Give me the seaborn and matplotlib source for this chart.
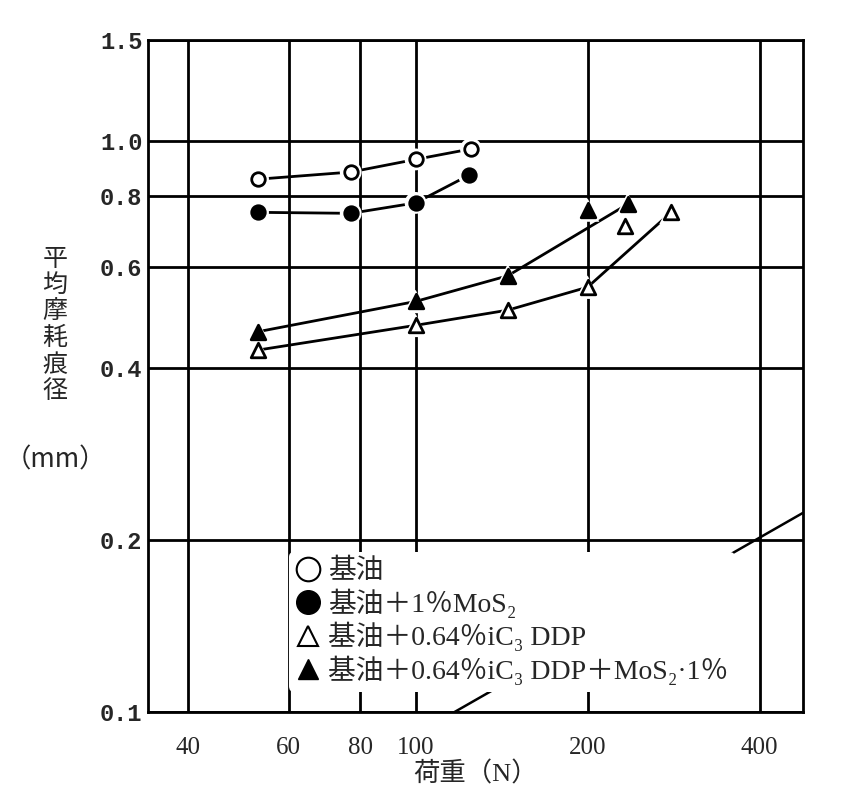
"""
荷重と平均摩耗痕径の関係 (両対数グラフ)
"""

import matplotlib
matplotlib.use("Agg")
import matplotlib.pyplot as plt
from matplotlib.lines import Line2D
from matplotlib.ticker import FixedLocator, NullFormatter, NullLocator
import seaborn as sns
import pandas as pd

# データ: 荷重 (N) / 平均摩耗痕径 (mm)
load_base = [53, 77, 100, 125]
wear_base = [0.856, 0.881, 0.927, 0.967]

load_mos2 = [53, 77, 100, 124]
wear_mos2 = [0.749, 0.746, 0.778, 0.870]

load_ddp = [53, 100, 145, 200, 233, 280]
wear_ddp = [0.430, 0.475, 0.505, 0.554, 0.708, 0.749]
curve_ddp = [True, True, True, True, False, True]

load_ddp_mos2 = [53, 100, 145, 200, 235]
wear_ddp_mos2 = [0.463, 0.523, 0.580, 0.756, 0.774]
curve_ddp_mos2 = [True, True, True, False, True]

# 凡例の下に隠れている線
load_ref = [117, 476]
wear_ref = [0.1, 0.223]

labels = ["基油", "基油＋1％MoS₂", "基油＋0.64％iC₃ DDP",
          "基油＋0.64％iC₃ DDP＋MoS₂·1％"]
x_ticks = [40, 60, 80, 100, 200, 400]
x_minor = [50, 70, 90, 150, 300]
y_ticks = [0.1, 0.2, 0.4, 0.6, 0.8, 1.0, 1.5]
y_ticklabels = ["0.1", "0.2", "0.4", "0.6", "0.8", "1.0", "1.5"]

sns.set_theme(style="white")
plt.rcParams['font.family'] = ['Liberation Serif', 'Noto Sans CJK JP', 'DejaVu Serif']
plt.rcParams['axes.unicode_minus'] = False

fig = plt.figure(figsize=(8.45, 7.92), dpi=100)
ax = fig.add_axes([0.175, 0.101, 0.775, 0.8485])
ax.set_xscale('log')
ax.set_yscale('log')

series = [
    (load_base, wear_base, [True] * len(load_base), 'o', 'white', 95),
    (load_mos2, wear_mos2, [True] * len(load_mos2), 'o', 'black', 95),
    (load_ddp, wear_ddp, curve_ddp, '^', 'white', 110),
    (load_ddp_mos2, wear_ddp_mos2, curve_ddp_mos2, '^', 'black', 110),
]

for i, (xs, ys, on_curve, mk, fc, size) in enumerate(series):
    df = pd.DataFrame({'load': xs, 'wear': ys, 'curve': on_curve})
    curve = df[df['curve']]
    sns.lineplot(data=curve, x='load', y='wear', ax=ax, color='black',
                 linewidth=2, sort=True, estimator=None, zorder=2)
    # 白い縁でマーカー周りの線を切る
    sns.scatterplot(data=df, x='load', y='wear', ax=ax, marker=mk, s=size * 2.6,
                    color='white', edgecolor='none', zorder=3)
    sns.scatterplot(data=df, x='load', y='wear', ax=ax, marker=mk, s=size,
                    facecolor=fc, edgecolor='black', linewidth=2, zorder=4)

sns.lineplot(x=load_ref, y=wear_ref, ax=ax, color='black', linewidth=1.8, zorder=2)

ax.set_xlim(34, 476)
ax.set_ylim(0.1, 1.5)

ax.xaxis.set_major_locator(FixedLocator(x_ticks))
ax.xaxis.set_minor_locator(FixedLocator(x_minor))
ax.xaxis.set_minor_formatter(NullFormatter())
ax.set_xticklabels([str(v) for v in x_ticks])
ax.yaxis.set_major_locator(FixedLocator(y_ticks))
ax.yaxis.set_minor_locator(NullLocator())
ax.set_yticklabels(y_ticklabels, family=['Liberation Mono', 'DejaVu Sans Mono'])

ax.tick_params(axis='x', which='major', direction='in', length=0, labelsize=18, pad=18)
ax.tick_params(axis='x', which='minor', direction='in', length=8, width=1.5, color='black')
ax.tick_params(axis='y', which='major', direction='in', length=0, labelsize=17, pad=4)
for lab in ax.get_yticklabels():
    lab.set_fontweight('bold')

ax.grid(True, which='major', color='black', linewidth=2)
for s in ax.spines.values():
    s.set_color('black')
    s.set_linewidth(2)

ax.set_xlabel("荷重（N）", fontsize=19, labelpad=2)
ax.set_ylabel("")
fig.text(55 / 845, 1 - 325 / 792, "平\n均\n摩\n耗\n痕\n径", fontsize=18,
         ha='center', va='center', linespacing=1.02,
         family=['Noto Sans CJK JP', 'DejaVu Sans'])
fig.text(55 / 845, 1 - 460 / 792, "（mm）", fontsize=19, ha='center', va='center',
         family=['Noto Sans CJK JP', 'DejaVu Sans'])

handles = [
    Line2D([], [], linestyle='none', marker='o', markersize=17, markerfacecolor='white',
           markeredgecolor='black', markeredgewidth=1.5),
    Line2D([], [], linestyle='none', marker='o', markersize=17, markerfacecolor='black',
           markeredgecolor='black'),
    Line2D([], [], linestyle='none', marker='^', markersize=14, markerfacecolor='white',
           markeredgecolor='black', markeredgewidth=1.5),
    Line2D([], [], linestyle='none', marker='^', markersize=14, markerfacecolor='black',
           markeredgecolor='black'),
]
leg = ax.legend(handles, labels, loc='lower left', bbox_to_anchor=(0.215, 0.03),
                fontsize=20, frameon=True, facecolor='white', edgecolor='none',
                framealpha=1, handlelength=0.9, handletextpad=0.25,
                labelspacing=0.15, borderpad=0.25, borderaxespad=0)
leg.set_zorder(5)

fig.savefig("out.png", dpi=100, facecolor='white')
plt.close(fig)
